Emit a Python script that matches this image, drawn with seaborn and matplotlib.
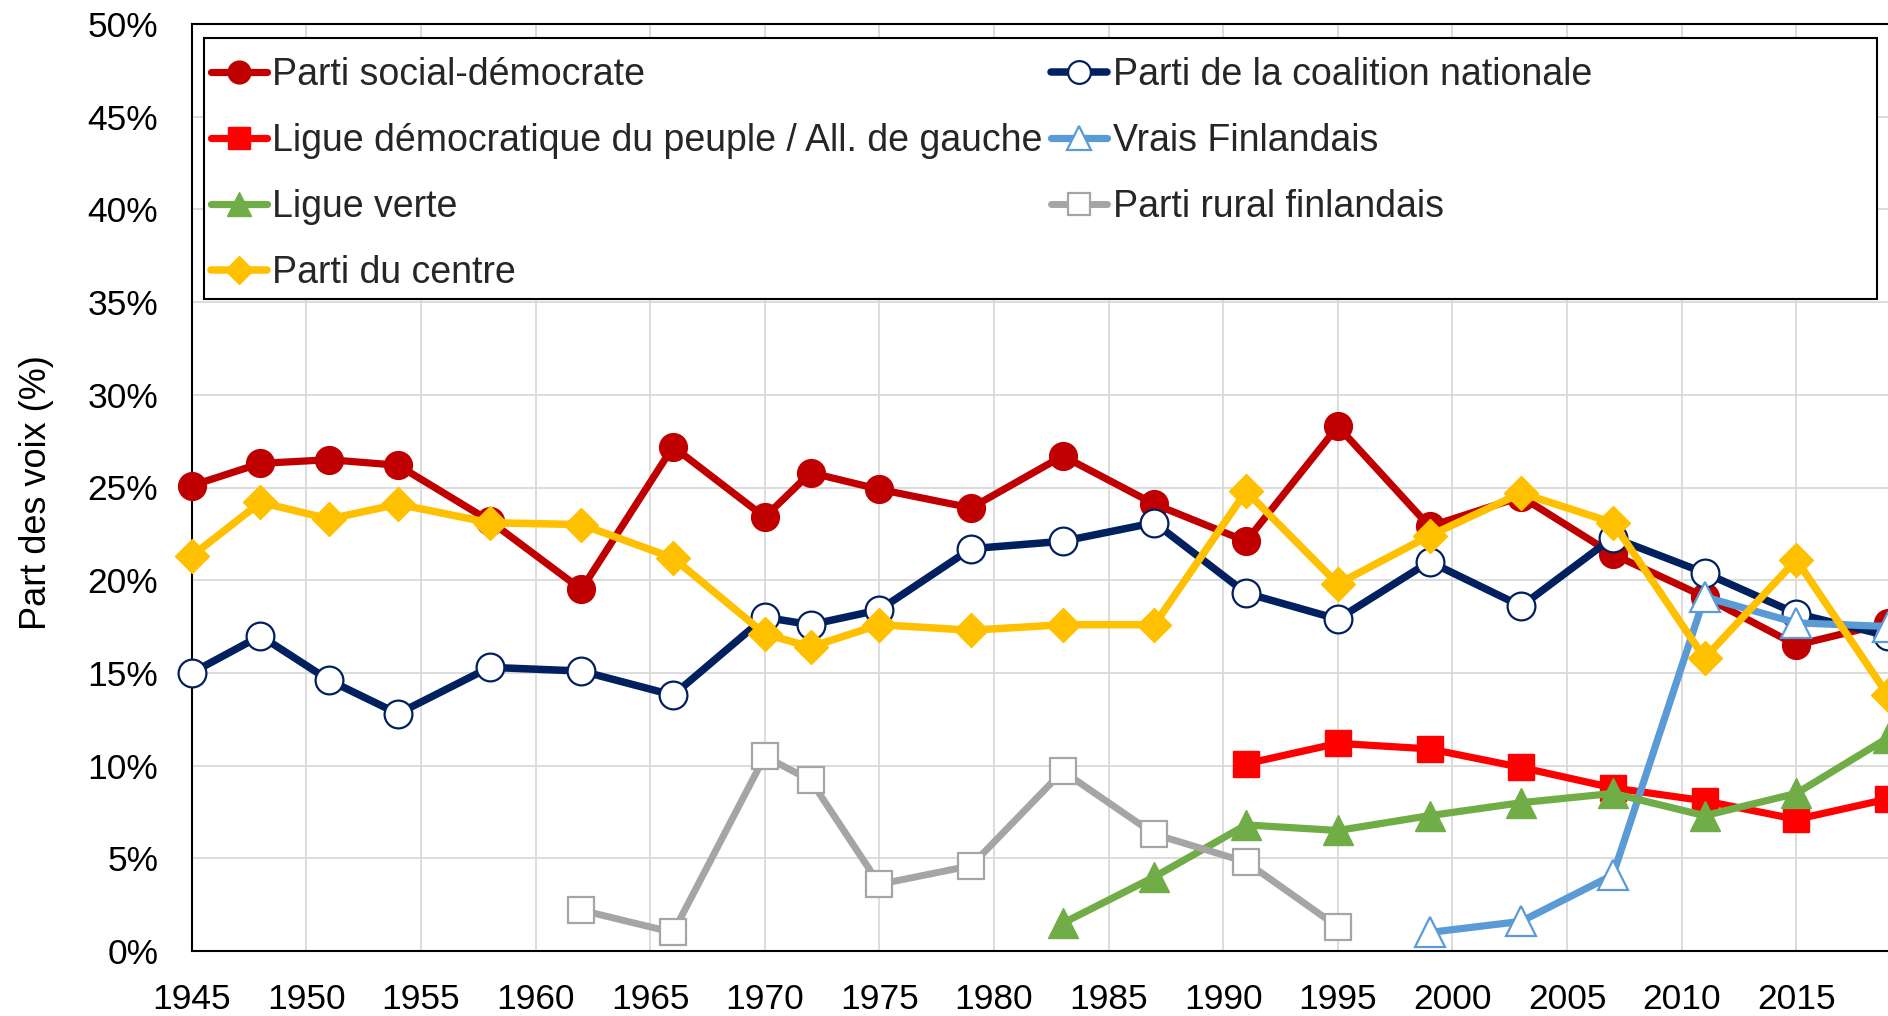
import matplotlib
matplotlib.use("Agg")
import matplotlib.pyplot as plt
from matplotlib.patches import Rectangle
from matplotlib.ticker import FuncFormatter
import seaborn as sns

# ---- data ----
years_all = [1945, 1948, 1951, 1954, 1958, 1962, 1966, 1970, 1972, 1975, 1979,
             1983, 1987, 1991, 1995, 1999, 2003, 2007, 2011, 2015, 2019]
sdp = [25.1, 26.3, 26.5, 26.2, 23.2, 19.5, 27.2, 23.4, 25.8, 24.9, 23.9,
       26.7, 24.1, 22.1, 28.3, 22.9, 24.5, 21.4, 19.1, 16.5, 17.7]
kok = [15.0, 17.0, 14.6, 12.8, 15.3, 15.1, 13.8, 18.0, 17.6, 18.4, 21.7,
       22.1, 23.1, 19.3, 17.9, 21.0, 18.6, 22.3, 20.4, 18.2, 17.0]
centre = [21.3, 24.2, 23.3, 24.1, 23.1, 23.0, 21.2, 17.1, 16.4, 17.6, 17.3,
          17.6, 17.6, 24.8, 19.8, 22.4, 24.7, 23.1, 15.8, 21.1, 13.8]
years_vas = [1991, 1995, 1999, 2003, 2007, 2011, 2015, 2019]
vas = [10.1, 11.2, 10.9, 9.9, 8.8, 8.1, 7.1, 8.2]
years_ps = [1999, 2003, 2007, 2011, 2015, 2019]
ps = [1.0, 1.6, 4.1, 19.1, 17.7, 17.5]
years_green = [1983, 1987, 1991, 1995, 1999, 2003, 2007, 2011, 2015, 2019]
green = [1.5, 4.0, 6.8, 6.5, 7.3, 8.0, 8.5, 7.3, 8.5, 11.5]
years_smp = [1962, 1966, 1970, 1972, 1975, 1979, 1983, 1987, 1991, 1995]
smp = [2.2, 1.0, 10.5, 9.2, 3.6, 4.6, 9.7, 6.3, 4.8, 1.3]

labels = {
    "sdp": "Parti social-démocrate",
    "kok": "Parti de la coalition nationale",
    "vas": "Ligue démocratique du peuple / All. de gauche",
    "ps": "Vrais Finlandais",
    "green": "Ligue verte",
    "smp": "Parti rural finlandais",
    "centre": "Parti du centre",
}
x_ticks = list(range(1945, 2016, 5))
y_ticks = list(range(0, 51, 5))

sns.set_theme(style="white")
plt.rcParams["font.family"] = ["Liberation Sans", "DejaVu Sans"]

fig = plt.figure(figsize=(18.88, 10.16), dpi=100)
ax = fig.add_axes([191.7 / 1888, 1 - 951 / 1016, 1 - 191.7 / 1888, 927 / 1016])

common = dict(clip_on=False, zorder=3,
              solid_joinstyle="round", solid_capstyle="round")

series = [
    ("sdp", years_all, sdp, "#C00000", "o", 20, "#C00000", "#C00000", 1.0, 5.2),
    ("kok", years_all, kok, "#002060", "o", 20, "white", "#002060", 1.6, 5.4),
    ("vas", years_vas, vas, "#FF0000", "s", 18.5, "#FF0000", "#FF0000", 1.0, 5.2),
    ("ps", years_ps, ps, "#5B9BD5", "^", 21, "white", "#5B9BD5", 1.6, 5.2),
    ("green", years_green, green, "#70AD47", "^", 21, "#70AD47", "#70AD47", 1.0, 5.2),
    ("smp", years_smp, smp, "#A5A5A5", "s", 18.5, "white", "#A5A5A5", 1.6, 5.0),
    ("centre", years_all, centre, "#FFC000", "D", 17, "#FFC000", "#FFC000", 1.0, 5.4),
]
handles = {}
for key, xs, ys, col, mk, ms, mfc, mec, mew, lw in series:
    sns.lineplot(x=xs, y=ys, ax=ax, color=col, marker=mk, markersize=ms,
                 markerfacecolor=mfc, markeredgecolor=mec, markeredgewidth=mew,
                 linewidth=lw, label=labels[key], legend=False, **common)
    handles[key] = ax.lines[-1]

ax.set_xlim(1945, 2019)
ax.set_ylim(0, 50)
ax.set_xticks(x_ticks)
ax.set_yticks(y_ticks)
ax.yaxis.set_major_formatter(FuncFormatter(lambda v, p: f"{v:.0f}%"))
ax.grid(True, color="#D9D9D9", linewidth=1.3)
ax.set_axisbelow(True)
ax.tick_params(axis="both", length=0, labelsize=25.5, colors="black")
ax.tick_params(axis="y", pad=24)
ax.tick_params(axis="x", pad=23)
for s in ["left", "bottom", "top"]:
    ax.spines[s].set_visible(True)
    ax.spines[s].set_color("black")
    ax.spines[s].set_linewidth(1.5)
ax.spines["right"].set_visible(False)

ax.set_ylabel("Part des voix (%)", fontsize=26, color="black")
ax.yaxis.set_label_coords(-0.081, 0.495)
ax.set_xlabel("")

# legend box
x0 = (204 - 191.7) / 1696.3
x1 = (1877 - 191.7) / 1696.3
yt = (951 - 38) / 927
yb = (951 - 299) / 927
ax.add_patch(Rectangle((x0, yb), x1 - x0, yt - yb, transform=ax.transAxes,
                       facecolor="white", edgecolor="black", linewidth=1.5,
                       zorder=4, clip_on=False))

order = ["sdp", "vas", "green", "centre", "kok", "ps", "smp"]
leg = ax.legend([handles[k] for k in order], [labels[k] for k in order],
                ncol=2, loc="upper left",
                bbox_to_anchor=((211 - 191.7) / 1696.3, (951 - 57) / 927),
                frameon=False, borderpad=0, borderaxespad=0,
                fontsize=27, handlelength=1.5, handletextpad=0.14,
                columnspacing=0.22, labelspacing=0.8, markerscale=0.82)
leg.set_zorder(5)

fig.savefig("out.png", dpi=100)
